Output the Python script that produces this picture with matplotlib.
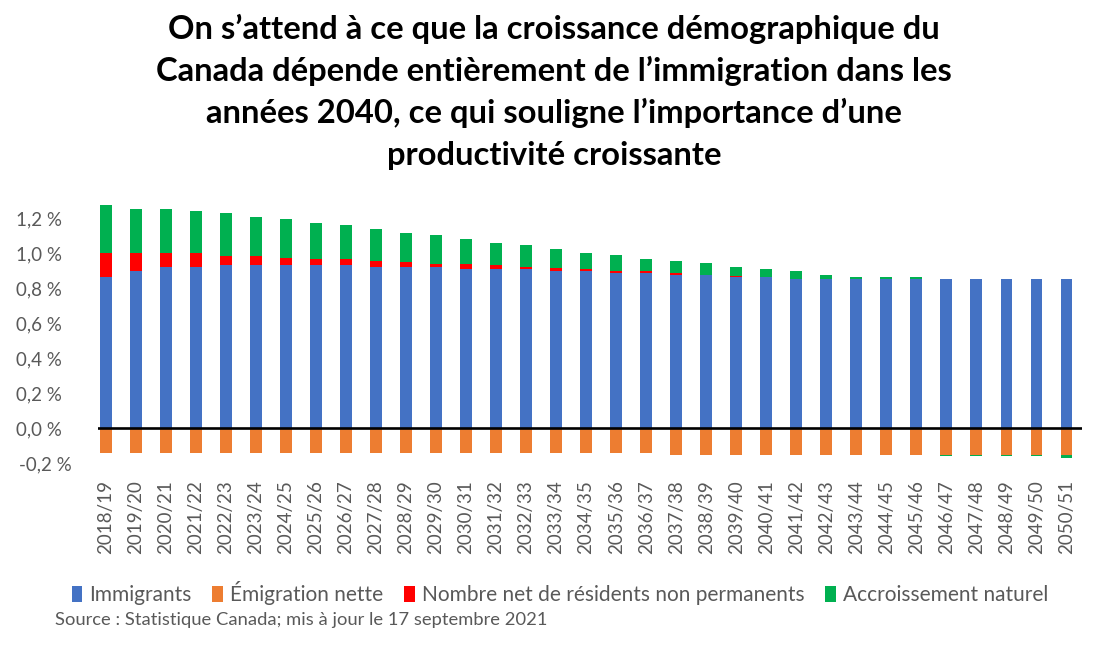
import matplotlib
matplotlib.use("Agg")
import matplotlib.pyplot as plt
import numpy as np

categories = ["2018/19", "2019/20", "2020/21", "2021/22", "2022/23", "2023/24", "2024/25",
              "2025/26", "2026/27", "2027/28", "2028/29", "2029/30", "2030/31", "2031/32",
              "2032/33", "2033/34", "2034/35", "2035/36", "2036/37", "2037/38", "2038/39",
              "2039/40", "2040/41", "2041/42", "2042/43", "2043/44", "2044/45", "2045/46",
              "2046/47", "2047/48", "2048/49", "2049/50", "2050/51"]

immigrants = [0.863, 0.899, 0.922, 0.922, 0.931, 0.931, 0.931, 0.931, 0.931, 0.922, 0.922,
              0.922, 0.908, 0.908, 0.908, 0.897, 0.897, 0.887, 0.887, 0.874, 0.874, 0.863,
              0.863, 0.851, 0.851, 0.851, 0.851, 0.851, 0.851, 0.851, 0.851, 0.851, 0.851]

emigration = [-0.139, -0.139, -0.139, -0.139, -0.139, -0.139, -0.139, -0.139, -0.139, -0.139,
              -0.139, -0.139, -0.139, -0.139, -0.139, -0.139, -0.139, -0.139, -0.139, -0.150,
              -0.150, -0.150, -0.150, -0.150, -0.150, -0.150, -0.150, -0.150, -0.150, -0.150,
              -0.150, -0.150, -0.150]

non_permanent = [0.139, 0.103, 0.080, 0.080, 0.055, 0.055, 0.044, 0.035, 0.035, 0.032, 0.030,
                 0.019, 0.033, 0.023, 0.012, 0.021, 0.011, 0.012, 0.012, 0.012, 0.000, 0.009,
                 0.000, 0.000, 0.000, 0.000, 0.000, 0.000, 0.000, 0.000, 0.000, 0.000, 0.000]

natural = [0.272, 0.249, 0.249, 0.238, 0.242, 0.220, 0.219, 0.205, 0.194, 0.183, 0.162,
           0.162, 0.139, 0.126, 0.126, 0.105, 0.092, 0.089, 0.067, 0.068, 0.069, 0.048,
           0.045, 0.046, 0.023, 0.012, 0.012, 0.012, -0.010, -0.010, -0.010, -0.010, -0.020]

y_ticks = [-0.2, 0.0, 0.2, 0.4, 0.6, 0.8, 1.0, 1.2]
series_names = ["Immigrants", "Émigration nette", "Nombre net de résidents non permanents",
                "Accroissement naturel"]
title_lines = ["On s’attend à ce que la croissance démographique du",
               "Canada dépende entièrement de l’immigration dans les",
               "années 2040, ce qui souligne l’importance d’une",
               "productivité croissante"]
source_text = "Source : Statistique Canada; mis à jour le 17 septembre 2021"

colors = ["#4472C4", "#ED7D31", "#FF0000", "#00B050"]
grey = "#595959"

plt.rcParams['font.family'] = ['Lato', 'DejaVu Sans']

W, H = 1108, 654
fig = plt.figure(figsize=(W / 100, H / 100), dpi=100)
ax = fig.add_axes([98 / W, 1 - 463.3 / H, (1081.7 - 98) / W, (463.3 - 200.8) / H])

x = np.arange(len(categories))
imm = np.array(immigrants)
emi = np.array(emigration)
npr = np.array(non_permanent)
nat = np.array(natural)
bw = 0.39

b1 = ax.bar(x, imm, bw, color=colors[0], label=series_names[0])
b2 = ax.bar(x, emi, bw, color=colors[1], label=series_names[1])
b3 = ax.bar(x, npr, bw, bottom=imm, color=colors[2], label=series_names[2])
nat_bottom = np.where(nat >= 0, imm + npr, emi)
b4 = ax.bar(x, nat, bw, bottom=nat_bottom, color=colors[3], label=series_names[3])

ax.axhline(0, color="black", lw=1.9, zorder=5)

ax.set_xlim(-0.26, 32.51)
ax.set_ylim(-0.2, 1.3)
for s in ax.spines.values():
    s.set_visible(False)

ax.set_yticks(y_ticks)
ylabels = []
for v in y_ticks:
    s = f"{v:.1f}".replace(".", ",") + " %"
    if v >= 0:
        s += "  "
    ylabels.append(s)
ax.set_yticklabels(ylabels)
ax.set_xticks(x)
ax.set_xticklabels(categories, rotation=90)
ax.tick_params(axis="y", length=0, pad=19, labelsize=13.5, labelcolor=grey)
ax.tick_params(axis="x", length=0, pad=12, labelsize=13.5, labelcolor=grey)

baselines = [39, 81, 123, 165]
for line, yb in zip(title_lines, baselines):
    fig.text(0.5, 1 - yb / H, line, ha="center", va="baseline", fontsize=23.6,
             fontweight="bold", color="black")

leg = fig.legend(handles=[b1, b2, b3, b4], loc="center", bbox_to_anchor=(560 / W, 1 - 593 / H),
                 ncol=4, frameon=False, fontsize=15, handlelength=0.5, handleheight=0.8,
                 handletextpad=0.35, columnspacing=1.0, borderaxespad=0)
for t in leg.get_texts():
    t.set_color(grey)

fig.text(55 / W, 1 - 620 / H, source_text, ha="left", va="center", fontsize=13.2, color=grey)

fig.savefig("out.png", dpi=100)
